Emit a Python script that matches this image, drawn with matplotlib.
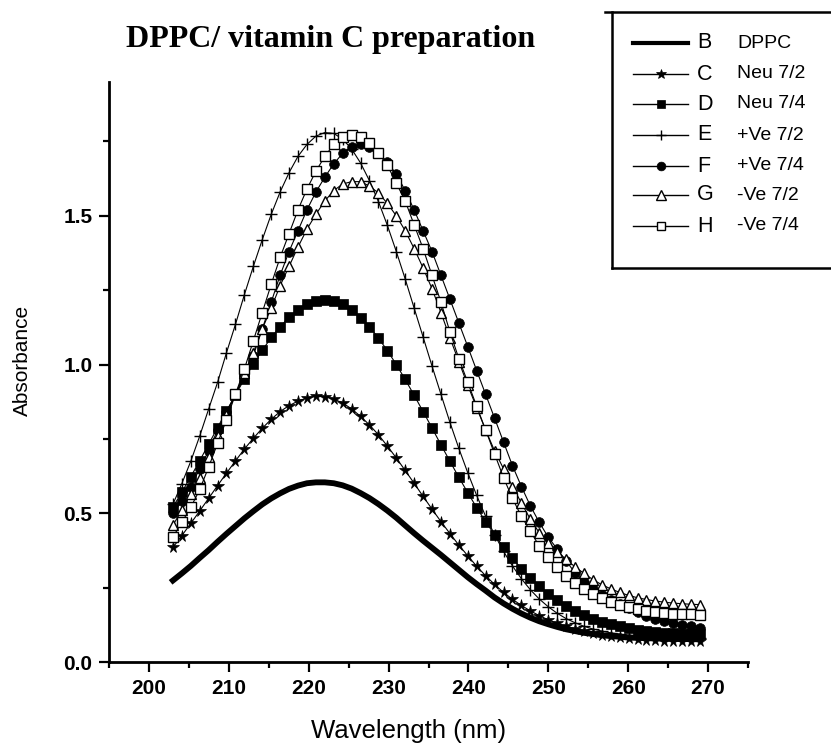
import matplotlib
matplotlib.use("Agg")
import matplotlib.pyplot as plt
from matplotlib.lines import Line2D
from matplotlib.ticker import FixedLocator
from matplotlib import font_manager

plt.rcParams['font.family'] = ['Liberation Sans', 'DejaVu Sans']

_names = {f.name for f in font_manager.fontManager.ttflist}
NARROW = ['Liberation Sans Narrow', 'Liberation Sans', 'DejaVu Sans'] if 'Liberation Sans Narrow' in _names \
    else ['Liberation Sans', 'DejaVu Sans']
HAS_NARROW = 'Liberation Sans Narrow' in _names

wavelength = [203.00, 204.12, 205.24, 206.36, 207.47, 208.59, 209.71, 210.83, 211.95, 213.07,
              214.19, 215.31, 216.42, 217.54, 218.66, 219.78, 220.90, 222.02, 223.14, 224.25,
              225.37, 226.49, 227.61, 228.73, 229.85, 230.97, 232.08, 233.20, 234.32, 235.44,
              236.56, 237.68, 238.80, 239.92, 241.03, 242.15, 243.27, 244.39, 245.51, 246.63,
              247.75, 248.86, 249.98, 251.10, 252.22, 253.34, 254.46, 255.58, 256.69, 257.81,
              258.93, 260.05, 261.17, 262.29, 263.41, 264.53, 265.64, 266.76, 267.88, 269.00]

B_dppc = [0.274, 0.298, 0.323, 0.350, 0.376, 0.404, 0.431, 0.457, 0.483, 0.507,
          0.530, 0.550, 0.567, 0.582, 0.593, 0.601, 0.604, 0.604, 0.601, 0.594,
          0.583, 0.568, 0.551, 0.531, 0.509, 0.485, 0.459, 0.433, 0.408, 0.384,
          0.360, 0.335, 0.310, 0.285, 0.262, 0.240, 0.217, 0.197, 0.179, 0.163,
          0.149, 0.137, 0.127, 0.118, 0.110, 0.104, 0.098, 0.094, 0.090, 0.087,
          0.085, 0.082, 0.081, 0.080, 0.079, 0.078, 0.078, 0.077, 0.077, 0.076]

C_neu72 = [0.385, 0.425, 0.466, 0.508, 0.550, 0.593, 0.635, 0.676, 0.716, 0.752,
           0.786, 0.816, 0.842, 0.862, 0.877, 0.888, 0.893, 0.892, 0.884, 0.871,
           0.851, 0.826, 0.797, 0.764, 0.726, 0.686, 0.644, 0.601, 0.557, 0.514,
           0.472, 0.432, 0.393, 0.357, 0.322, 0.290, 0.261, 0.234, 0.211, 0.190,
           0.172, 0.156, 0.142, 0.130, 0.120, 0.111, 0.103, 0.097, 0.092, 0.087,
           0.083, 0.080, 0.077, 0.075, 0.073, 0.072, 0.071, 0.070, 0.070, 0.069]

D_neu74 = [0.521, 0.571, 0.623, 0.677, 0.732, 0.788, 0.844, 0.898, 0.951, 1.002,
           1.048, 1.091, 1.127, 1.159, 1.184, 1.202, 1.213, 1.217, 1.213, 1.202,
           1.183, 1.158, 1.127, 1.089, 1.047, 1.000, 0.950, 0.897, 0.842, 0.787,
           0.730, 0.675, 0.621, 0.569, 0.519, 0.472, 0.428, 0.386, 0.349, 0.314,
           0.283, 0.255, 0.230, 0.208, 0.189, 0.172, 0.158, 0.146, 0.136, 0.127,
           0.120, 0.114, 0.109, 0.105, 0.102, 0.099, 0.097, 0.095, 0.094, 0.093]

E_pos72 = [0.530, 0.600, 0.675, 0.760, 0.850, 0.940, 1.040, 1.135, 1.235, 1.330,
           1.420, 1.505, 1.580, 1.645, 1.700, 1.740, 1.768, 1.780, 1.777, 1.758,
           1.725, 1.678, 1.618, 1.548, 1.468, 1.380, 1.288, 1.190, 1.093, 0.995,
           0.900, 0.806, 0.718, 0.636, 0.560, 0.490, 0.428, 0.372, 0.323, 0.280,
           0.243, 0.212, 0.186, 0.164, 0.146, 0.132, 0.120, 0.111, 0.104, 0.098,
           0.094, 0.090, 0.088, 0.086, 0.085, 0.084, 0.083, 0.082, 0.082, 0.081]

F_pos74 = [0.500, 0.540, 0.590, 0.650, 0.710, 0.780, 0.840, 0.900, 0.960, 1.030,
           1.120, 1.210, 1.300, 1.380, 1.450, 1.520, 1.580, 1.630, 1.675, 1.710,
           1.730, 1.740, 1.730, 1.710, 1.680, 1.640, 1.585, 1.520, 1.450, 1.380,
           1.300, 1.220, 1.140, 1.060, 0.980, 0.900, 0.820, 0.740, 0.660, 0.590,
           0.525, 0.470, 0.420, 0.380, 0.340, 0.300, 0.270, 0.245, 0.225, 0.210,
           0.195, 0.180, 0.167, 0.155, 0.146, 0.138, 0.131, 0.125, 0.120, 0.115]

G_neg72 = [0.460, 0.510, 0.565, 0.620, 0.690, 0.760, 0.830, 0.900, 0.970, 1.040,
           1.120, 1.190, 1.265, 1.330, 1.395, 1.455, 1.505, 1.550, 1.585, 1.607,
           1.615, 1.615, 1.600, 1.577, 1.542, 1.500, 1.450, 1.390, 1.325, 1.255,
           1.175, 1.090, 1.010, 0.930, 0.855, 0.780, 0.710, 0.650, 0.590, 0.535,
           0.480, 0.435, 0.400, 0.370, 0.345, 0.320, 0.298, 0.277, 0.260, 0.246,
           0.234, 0.224, 0.216, 0.210, 0.205, 0.201, 0.198, 0.196, 0.194, 0.193]

H_neg74 = [0.420, 0.470, 0.520, 0.580, 0.655, 0.735, 0.815, 0.900, 0.985, 1.080,
           1.175, 1.270, 1.360, 1.440, 1.520, 1.590, 1.650, 1.700, 1.740, 1.765,
           1.772, 1.765, 1.745, 1.710, 1.670, 1.610, 1.550, 1.470, 1.390, 1.300,
           1.210, 1.110, 1.020, 0.940, 0.860, 0.780, 0.700, 0.620, 0.550, 0.490,
           0.440, 0.390, 0.354, 0.318, 0.290, 0.265, 0.245, 0.230, 0.215, 0.203,
           0.193, 0.185, 0.178, 0.173, 0.169, 0.166, 0.163, 0.161, 0.160, 0.158]

letters = ['B', 'C', 'D', 'E', 'F', 'G', 'H']
labels = ['DPPC', 'Neu 7/2', 'Neu 7/4', '+Ve 7/2', '+Ve 7/4', '-Ve 7/2', '-Ve 7/4']
series = [B_dppc, C_neu72, D_neu74, E_pos72, F_pos74, G_neg72, H_neg74]
xticks = [200, 210, 220, 230, 240, 250, 260, 270]
xminor = [195, 205, 215, 225, 235, 245, 255, 265, 275]
yticks = [0.0, 0.5, 1.0, 1.5]
ytick_labels = ['0.0', '0.5', '1.0', '1.5']
yminor = [0.25, 0.75, 1.25, 1.75]

styles = [
    dict(lw=4.2, marker=None),
    dict(lw=0.8, marker='*', ms=8.5, mfc='black', mec='black', mew=0.5),
    dict(lw=0.8, marker='s', ms=6.5, mfc='black', mec='black', mew=0.5),
    dict(lw=0.8, marker='+', ms=8, mfc='black', mec='black', mew=1.0),
    dict(lw=0.8, marker='o', ms=7, mfc='black', mec='black', mew=0.5),
    dict(lw=0.8, marker='^', ms=7.5, mfc='white', mec='black', mew=1.0),
    dict(lw=0.8, marker='s', ms=7, mfc='white', mec='black', mew=1.0),
]

W, H = 831, 744
fig = plt.figure(figsize=(W / 100, H / 100), dpi=100)
ax = fig.add_axes([109 / W, 1 - 662 / H, (748 - 109) / W, (662 - 82) / H])

for ys, st in zip(series, styles):
    ax.plot(wavelength, ys, color='black', **st)

ax.set_xlim(195, 275)
ax.set_ylim(0, 1.95)
ax.xaxis.set_major_locator(FixedLocator(xticks))
ax.xaxis.set_minor_locator(FixedLocator(xminor))
ax.yaxis.set_major_locator(FixedLocator(yticks))
ax.yaxis.set_minor_locator(FixedLocator(yminor))
ax.set_yticklabels(ytick_labels)
for sp in ['top', 'right']:
    ax.spines[sp].set_visible(False)
for sp in ['left', 'bottom']:
    ax.spines[sp].set_linewidth(2.0)
tick_size = 17 if HAS_NARROW else 15
ax.tick_params(which='major', direction='out', length=7, width=1.6, labelsize=tick_size, pad=5)
ax.tick_params(which='minor', direction='out', length=4.5, width=1.6)
for lab in ax.get_xticklabels() + ax.get_yticklabels():
    lab.set_fontweight('bold')
    lab.set_family(NARROW)

ax.set_xlabel('Wavelength (nm)', fontsize=20 if HAS_NARROW else 18.5, family=NARROW)
ax.xaxis.set_label_coords((409 - 109) / 639, (662 - 731) / 580)
ax.xaxis.label.set_va('center')
ax.set_ylabel('Absorbance', fontsize=15)
ax.yaxis.set_label_coords((22 - 109) / 639, (662 - 360) / 580)
ax.yaxis.label.set_va('center')

fig.text(331 / W, 1 - 40 / H, 'DPPC/ vitamin C preparation', family=['Liberation Serif', 'DejaVu Serif'],
         fontweight='bold', fontsize=23, ha='center', va='center')

def fx(px):
    return px / W

def fy(py):
    return 1 - py / H

box_lw = 1.8
fig.add_artist(Line2D([fx(605), fx(831)], [fy(12), fy(12)], color='black', lw=box_lw, transform=fig.transFigure))
fig.add_artist(Line2D([fx(612), fx(612)], [fy(12), fy(268)], color='black', lw=box_lw, transform=fig.transFigure))
fig.add_artist(Line2D([fx(612), fx(831)], [fy(268), fy(268)], color='black', lw=box_lw, transform=fig.transFigure))

rows = [43, 74, 104, 135, 166, 195, 226]
for i, (let, lab, st) in enumerate(zip(letters, labels, styles)):
    y = fy(rows[i])
    kw = dict(st)
    kw['lw'] = 3.0 if i == 0 else 1.0
    if 'ms' in kw:
        kw['ms'] = kw['ms'] * 0.9
    ln = Line2D([fx(633), fx(660.5), fx(688)], [y, y, y], color='black', markevery=[1],
                transform=fig.transFigure, **kw)
    fig.add_artist(ln)
    fig.text(fx(697), y, let, fontsize=15.5, ha='left', va='center')
    fig.text(fx(737), y, lab, fontsize=15.5 if HAS_NARROW else 14, family=NARROW, ha='left', va='center')

fig.savefig('out.png', dpi=100)
